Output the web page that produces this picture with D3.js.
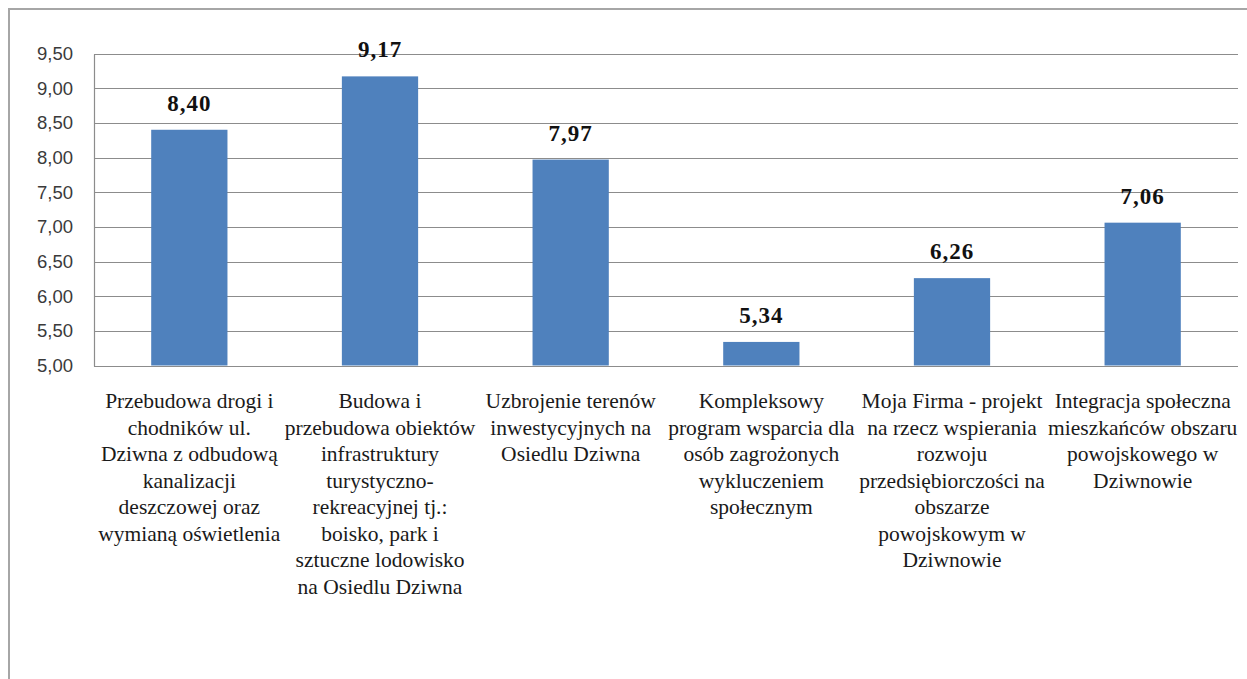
<!DOCTYPE html>
<html>
<head>
<meta charset="utf-8">
<script src="https://cdn.jsdelivr.net/npm/d3@7"></script>
<style>
  html, body { margin: 0; padding: 0; background: #fff; }
  svg { display: block; }
</style>
</head>
<body>
<svg id="chart" width="1247" height="679"></svg>
<script>
const categories = [
  ["Przebudowa drogi i", "chodników ul.", "Dziwna z odbudową", "kanalizacji", "deszczowej oraz", "wymianą oświetlenia"],
  ["Budowa i", "przebudowa obiektów", "infrastruktury", "turystyczno-", "rekreacyjnej tj.:", "boisko, park i", "sztuczne lodowisko", "na Osiedlu Dziwna"],
  ["Uzbrojenie terenów", "inwestycyjnych na", "Osiedlu Dziwna"],
  ["Kompleksowy", "program wsparcia dla", "osób zagrożonych", "wykluczeniem", "społecznym"],
  ["Moja Firma - projekt", "na rzecz wspierania", "rozwoju", "przedsiębiorczości na", "obszarze", "powojskowym w", "Dziwnowie"],
  ["Integracja społeczna", "mieszkańców obszaru", "powojskowego w", "Dziwnowie"]
];
const values = [8.40, 9.17, 7.97, 5.34, 6.26, 7.06];
const valueLabels = ["8,40", "9,17", "7,97", "5,34", "6,26", "7,06"];
const yTicks = [5.0, 5.5, 6.0, 6.5, 7.0, 7.5, 8.0, 8.5, 9.0, 9.5];
const yTickLabels = ["5,00", "5,50", "6,00", "6,50", "7,00", "7,50", "8,00", "8,50", "9,00", "9,50"];

const svg = d3.select("#chart");

// outer frame (extends beyond right/bottom edges)
svg.append("rect")
  .attr("x", 9).attr("y", 9).attr("width", 1270).attr("height", 700)
  .attr("fill", "none").attr("stroke", "#a6a6a6").attr("stroke-width", 2);

const plotL = 94, plotR = 1238, plotT = 53.5, plotB = 365.5;

const x = d3.scaleBand()
  .domain(d3.range(values.length))
  .range([plotL, plotR])
  .paddingInner(0.6)
  .paddingOuter(0.3);

const y = d3.scaleLinear().domain([5, 9.5]).range([plotB, plotT]);

// gridlines
svg.append("g")
  .selectAll("line")
  .data(yTicks)
  .join("line")
  .attr("x1", plotL).attr("x2", plotR)
  .attr("y1", d => Math.round(y(d)) + 0.5).attr("y2", d => Math.round(y(d)) + 0.5)
  .attr("stroke", "#8c8c8c").attr("stroke-width", 1.2);

// y axis line
svg.append("line")
  .attr("x1", plotL + 0.5).attr("x2", plotL + 0.5)
  .attr("y1", Math.round(y(9.5)) + 0.5).attr("y2", Math.round(y(5)) + 0.5)
  .attr("stroke", "#8c8c8c").attr("stroke-width", 1.2);

// y tick labels
svg.append("g")
  .selectAll("text")
  .data(yTicks)
  .join("text")
  .attr("x", 73)
  .attr("y", d => y(d))
  .attr("dy", "0.36em")
  .attr("text-anchor", "end")
  .attr("font-family", "Liberation Sans, Arial, sans-serif")
  .attr("font-size", 18.5)
  .attr("fill", "#3a3a3a")
  .text((d, i) => yTickLabels[i]);

// bars
svg.append("g")
  .selectAll("rect")
  .data(values)
  .join("rect")
  .attr("x", (d, i) => x(i))
  .attr("y", d => y(d))
  .attr("width", x.bandwidth())
  .attr("height", d => y(5) - y(d))
  .attr("fill", "#4f81bd");

// value labels
svg.append("g")
  .selectAll("text")
  .data(values)
  .join("text")
  .attr("x", (d, i) => x(i) + x.bandwidth() / 2)
  .attr("y", d => y(d) - 19)
  .attr("text-anchor", "middle")
  .attr("font-family", "Liberation Serif, Times New Roman, serif")
  .attr("font-weight", "bold")
  .attr("font-size", 23)
  .attr("letter-spacing", 1)
  .attr("fill", "#111")
  .text((d, i) => valueLabels[i]);

// category labels
const catG = svg.append("g")
  .selectAll("g")
  .data(categories)
  .join("g")
  .attr("transform", (d, i) => `translate(${x(i) + x.bandwidth() / 2},408)`);

catG.selectAll("text")
  .data(d => d)
  .join("text")
  .attr("x", 0)
  .attr("y", (d, j) => j * 26.5)
  .attr("text-anchor", "middle")
  .attr("font-family", "Liberation Serif, Times New Roman, serif")
  .attr("font-size", 21.5)
  .attr("fill", "#1a1a1a")
  .text(d => d);
</script>
</body>
</html>
